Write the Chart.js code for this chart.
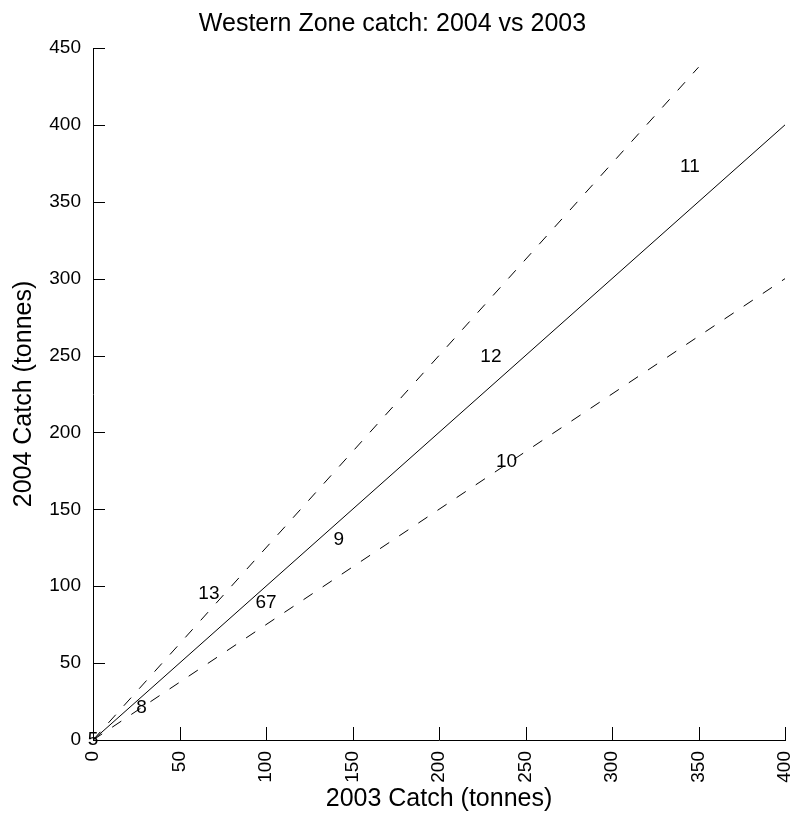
<!DOCTYPE html>
<html>
<head>
<meta charset="utf-8">
<script src="https://cdn.jsdelivr.net/npm/chart.js@4/dist/chart.umd.min.js"></script>
<style>
  body { margin: 0; background: #fff; }
  canvas { display: block; }
</style>
</head>
<body>
<canvas id="catchChart" width="793" height="814"></canvas>
<script>
// point labels and their catches (tonnes)
const pointIds = ["5", "8", "13", "6", "7", "9", "12", "10", "11"];
const catch2003 = [0, 28, 67, 97, 103, 142, 230, 239, 345];
const catch2004 = [0, 21, 95, 89, 89, 130, 249, 181, 373];

// reference lines (end points)
const equalX = [0, 400];
const equalY = [0, 400];
const upperX = [0, 350];
const upperY = [0, 437.5];
const lowerX = [0, 400];
const lowerY = [0, 300];

const xTicks = [0, 50, 100, 150, 200, 250, 300, 350, 400];
const yTicks = [0, 50, 100, 150, 200, 250, 300, 350, 400, 450];

const toPoints = (xs, ys) => xs.map((x, i) => ({ x: x, y: ys[i] }));

Chart.defaults.font.family = "'Liberation Sans', Arial, sans-serif";
Chart.defaults.color = "#000";

const pointLabels = {
  id: "pointLabels",
  afterDatasetsDraw(chart) {
    const ctx = chart.ctx;
    const meta = chart.getDatasetMeta(3);
    ctx.save();
    ctx.fillStyle = "#000";
    ctx.font = "19px 'Liberation Sans', Arial, sans-serif";
    ctx.textAlign = "center";
    ctx.textBaseline = "middle";
    meta.data.forEach((pt, i) => {
      ctx.fillText(pointIds[i], pt.x, pt.y);
    });
    ctx.restore();
  },
};

// R style ticks pointing inwards
const innerTicks = {
  id: "innerTicks",
  afterDraw(chart) {
    const ctx = chart.ctx;
    const xs = chart.scales.x;
    const ys = chart.scales.y;
    const area = chart.chartArea;
    ctx.save();
    ctx.strokeStyle = "#000";
    ctx.lineWidth = 1;
    ctx.beginPath();
    xTicks.forEach((v) => {
      const px = Math.round(xs.getPixelForValue(v)) + 0.5;
      ctx.moveTo(px, area.bottom);
      ctx.lineTo(px, area.bottom - 13);
    });
    yTicks.forEach((v) => {
      const py = Math.round(ys.getPixelForValue(v)) + 0.5;
      ctx.moveTo(area.left, py);
      ctx.lineTo(area.left + 12, py);
    });
    ctx.stroke();
    ctx.restore();
  },
};

const lineStyle = {
  type: "line",
  borderColor: "#000",
  borderWidth: 1,
  pointRadius: 0,
  fill: false,
  tension: 0,
};

new Chart(document.getElementById("catchChart"), {
  type: "scatter",
  data: {
    datasets: [
      { ...lineStyle, data: toPoints(equalX, equalY) },
      { ...lineStyle, borderDash: [11, 12], data: toPoints(upperX, upperY) },
      { ...lineStyle, borderDash: [11, 12], data: toPoints(lowerX, lowerY) },
      { data: toPoints(catch2003, catch2004), pointRadius: 0 },
    ],
  },
  options: {
    responsive: false,
    animation: false,
    devicePixelRatio: 1,
    layout: { padding: { right: 8 } },
    plugins: {
      legend: { display: false },
      tooltip: { enabled: false },
      title: {
        display: true,
        text: "Western Zone catch: 2004 vs 2003",
        color: "#000",
        font: { size: 25, weight: "normal" },
        padding: { top: 9, bottom: 9 },
      },
    },
    scales: {
      x: {
        type: "linear",
        min: 0,
        max: 400,
        afterFit: (s) => { s.height = 74; s.paddingLeft = 0; s.paddingRight = 0; },
        afterBuildTicks: (s) => { s.ticks = xTicks.map((v) => ({ value: v })); },
        ticks: {
          autoSkip: false,
          minRotation: 90,
          maxRotation: 90,
          padding: 11,
          font: { size: 19 },
        },
        grid: { drawOnChartArea: false, drawTicks: false },
        border: { color: "#000", width: 1 },
        title: {
          display: true,
          text: "2003 Catch (tonnes)",
          font: { size: 25 },
          padding: { top: 4, bottom: 0 },
        },
      },
      y: {
        type: "linear",
        min: 0,
        max: 450,
        afterFit: (s) => { s.width = 93; },
        afterBuildTicks: (s) => { s.ticks = yTicks.map((v) => ({ value: v })); },
        ticks: {
          autoSkip: false,
          padding: 12,
          font: { size: 19 },
        },
        grid: { drawOnChartArea: false, drawTicks: false },
        border: { color: "#000", width: 1 },
        title: {
          display: true,
          text: "2004 Catch (tonnes)",
          font: { size: 25 },
          padding: { top: 9, bottom: 0 },
        },
      },
    },
  },
  plugins: [pointLabels, innerTicks],
});
</script>
</body>
</html>
